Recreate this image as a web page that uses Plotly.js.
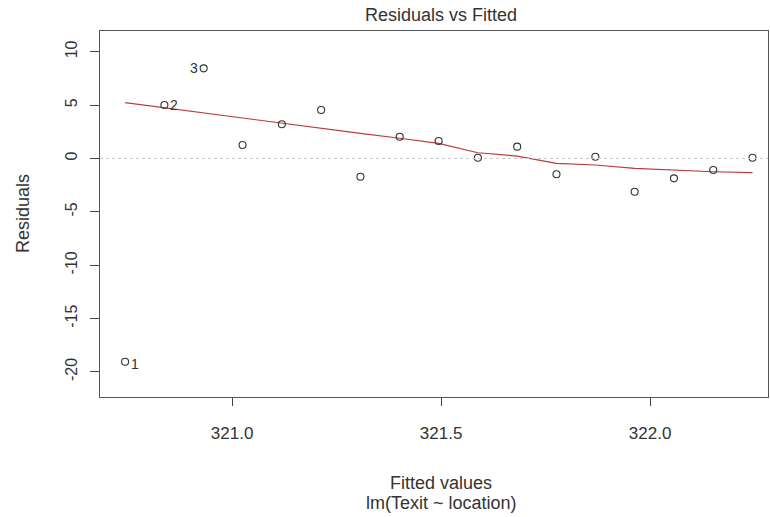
<!DOCTYPE html>
<html>
<head>
<meta charset="utf-8">
<script src="https://cdn.plot.ly/plotly-3.0.1.min.js"></script>
<style>html,body{margin:0;padding:0;background:#fff;}#chart{width:770px;height:517px;}</style>
</head>
<body>
<div id="chart"></div>
<script>
// Data
const fittedValues = [320.744, 320.838, 320.932, 321.025, 321.119, 321.213, 321.307, 321.401, 321.494, 321.588, 321.682, 321.776, 321.869, 321.963, 322.057, 322.151, 322.245];
const residualValues = [-19.04, 5.01, 8.45, 1.27, 3.21, 4.55, -1.71, 2.04, 1.64, 0.07, 1.11, -1.48, 0.17, -3.11, -1.86, -1.08, 0.07];
const smoothValues = [5.23, 4.74, 4.27, 3.80, 3.33, 2.84, 2.36, 1.90, 1.42, 0.54, 0.23, -0.45, -0.61, -0.92, -1.08, -1.24, -1.33];
const labelIndex = [0, 1, 2];
const labelText = ['1', '2', '3'];
const labelSide = ['right', 'right', 'left'];
const xTickVals = [321.0, 321.5, 322.0];
const xTickText = ['321.0', '321.5', '322.0'];
const yTickVals = [-20, -15, -10, -5, 0, 5, 10];
const yTickText = ['-20', '-15', '-10', '-5', '0', '5', '10'];

const FONT = 'Liberation Sans, Arial, sans-serif';
const TXT = '#333333';

const traces = [
  {
    x: fittedValues, y: smoothValues, type: 'scatter', mode: 'lines',
    line: {color: '#b83c3c', width: 1.2}, hoverinfo: 'skip', showlegend: false
  },
  {
    x: fittedValues, y: residualValues, type: 'scatter', mode: 'markers',
    marker: {symbol: 'circle-open', size: 7, color: '#333333', line: {width: 1.1, color: '#333333'}},
    showlegend: false
  }
];

const plotL = 100, plotR = 768;
const pointLabels = labelIndex.map((idx, k) => ({
  text: labelText[k], xref: 'x', yref: 'y',
  x: fittedValues[idx], y: residualValues[idx],
  xanchor: labelSide[k] === 'right' ? 'left' : 'right', yanchor: 'middle',
  xshift: labelSide[k] === 'right' ? 4 : -4, yshift: k === 0 ? -2 : 0,
  showarrow: false, font: {family: FONT, size: 14, color: TXT}
}));

const layout = {
  width: 770, height: 517,
  margin: {l: 100, r: 2, t: 31, b: 120},
  paper_bgcolor: '#ffffff', plot_bgcolor: '#ffffff',
  font: {family: FONT, color: TXT},
  showlegend: false,
  xaxis: {
    range: [320.684, 322.282],
    tickvals: xTickVals, ticktext: xTickText,
    ticks: 'outside', ticklen: 8, tickcolor: '#444', tickwidth: 1,
    ticklabelstandoff: 12,
    tickfont: {family: FONT, size: 17, color: TXT},
    showgrid: false, zeroline: false,
    showline: true, mirror: true, linecolor: '#555', linewidth: 1.3
  },
  yaxis: {
    range: [-22.35, 11.95],
    tickvals: yTickVals, ticktext: yTickText, tickangle: -90,
    ticks: 'outside', ticklen: 9, tickcolor: '#444', tickwidth: 1,
    ticklabelstandoff: 6,
    tickfont: {family: FONT, size: 16, color: TXT},
    showgrid: false, zeroline: false,
    showline: true, mirror: true, linecolor: '#555', linewidth: 1.3
  },
  shapes: [
    {type: 'line', xref: 'paper', x0: 0, x1: 1, yref: 'y', y0: 0, y1: 0,
     line: {color: '#c8c8c8', width: 1, dash: 'dot'}}
  ],
  annotations: [
    {text: 'Residuals vs Fitted', xref: 'paper', yref: 'paper',
     x: (441 - plotL) / (plotR - plotL), y: 1, yanchor: 'bottom', xanchor: 'center',
     yshift: 4, showarrow: false, font: {family: FONT, size: 18, color: TXT}},
    {text: 'Fitted values', xref: 'paper', yref: 'paper',
     x: (441 - plotL) / (plotR - plotL), y: 0, yanchor: 'middle', xanchor: 'center',
     yshift: -86, showarrow: false, font: {family: FONT, size: 18, color: TXT}},
    {text: 'lm(Texit ~ location)', xref: 'paper', yref: 'paper',
     x: (441 - plotL) / (plotR - plotL), y: 0, yanchor: 'middle', xanchor: 'center',
     yshift: -106, showarrow: false, font: {family: FONT, size: 18, color: TXT}},
    {text: 'Residuals', xref: 'paper', yref: 'paper', textangle: -90,
     x: (23 - plotL) / (plotR - plotL), y: 0.5, xanchor: 'center', yanchor: 'middle',
     showarrow: false, font: {family: FONT, size: 18, color: TXT}}
  ].concat(pointLabels)
};

Plotly.newPlot('chart', traces, layout, {displayModeBar: false, staticPlot: true});
</script>
</body>
</html>
